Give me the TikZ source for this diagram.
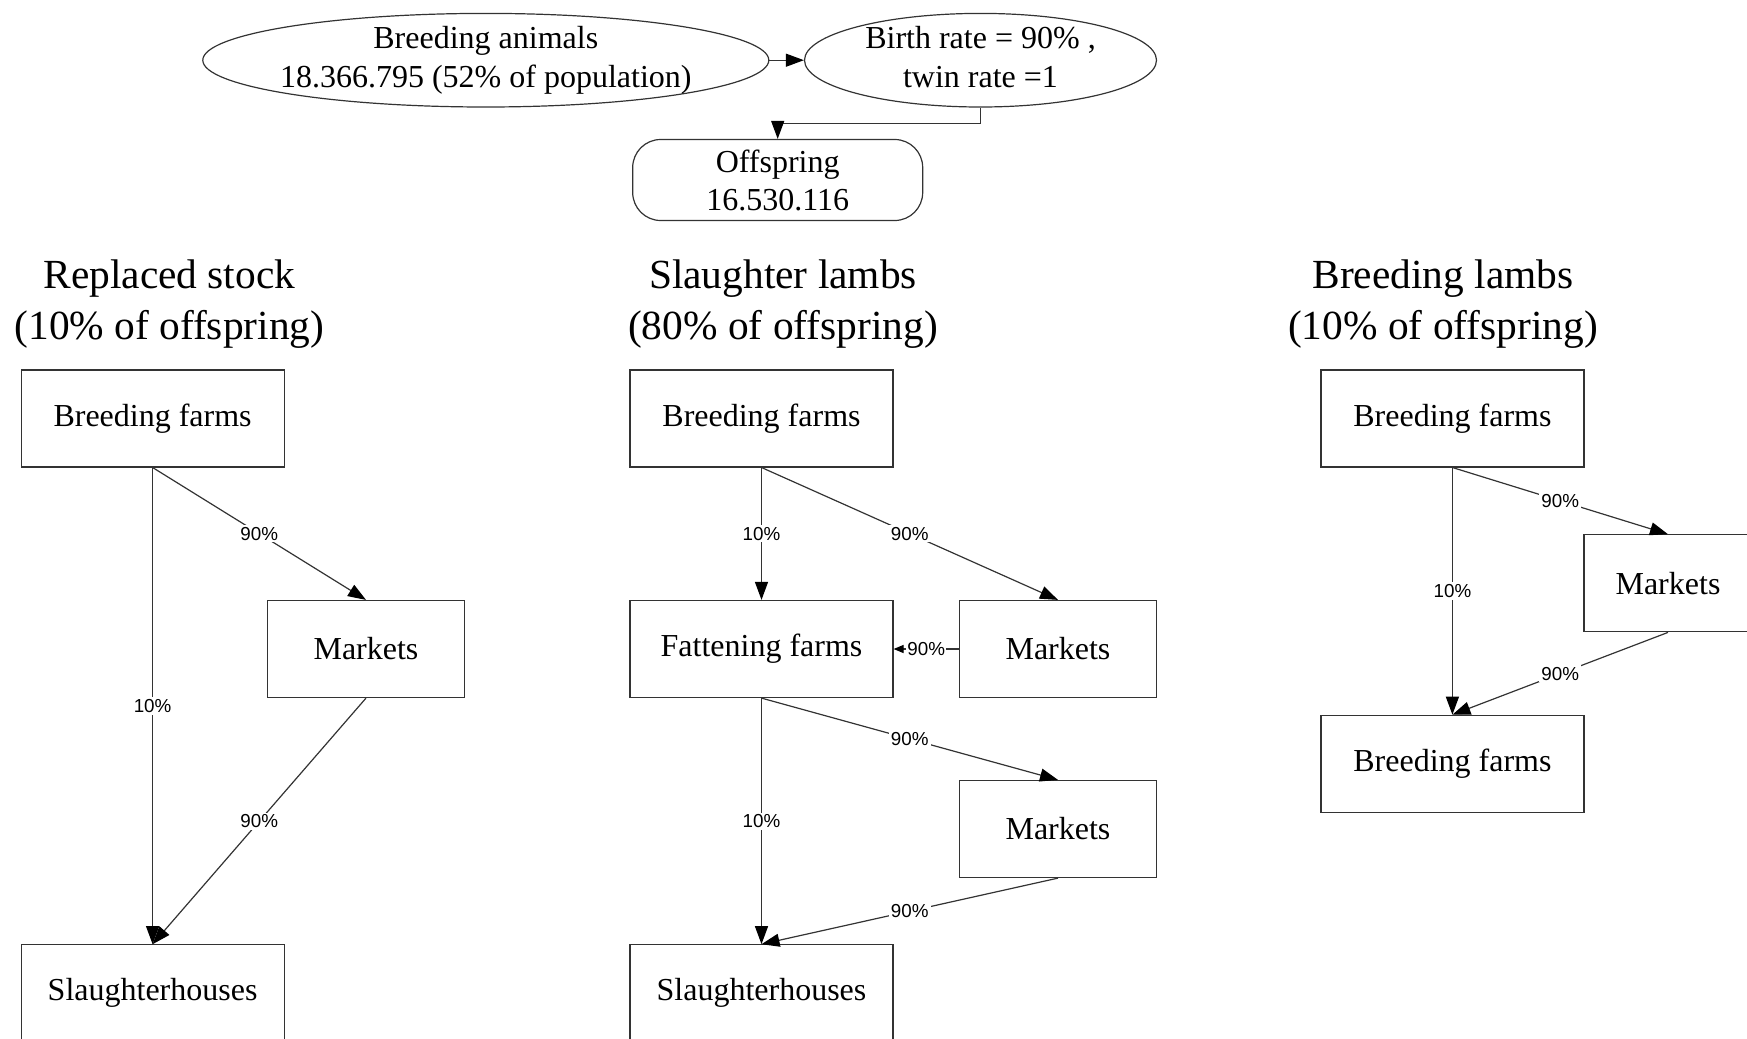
\documentclass[tikz,border=0pt]{standalone}
\usepackage{fontspec}
\setmainfont{Liberation Serif}
\newfontfamily\pctfont{Liberation Sans}
\usetikzlibrary{arrows.meta,shapes.geometric}
\tikzset{
  basic/.style  = {draw=black!80, line width=0.6pt, align=center,
                   font=\fontsize{16}{19.5}\selectfont},
  farm/.style   = {basic, rectangle, minimum width=131.5pt, minimum height=48.5pt},
  market/.style = {basic, rectangle, minimum width=98.5pt, minimum height=48.5pt},
  oval/.style   = {basic, ellipse, inner sep=-5pt, minimum height=46.8pt},
  result/.style = {basic, rounded corners=14pt, minimum width=145pt,
                   minimum height=40.5pt, font=\fontsize{16}{19}\selectfont},
  group/.style  = {align=center, font=\fontsize{20.7}{25.5}\selectfont},
  pct/.style    = {fill=white, inner sep=1pt, text=black,
                   font=\pctfont\fontsize{9.4}{11}\selectfont}
}

\begin{document}
\begin{tikzpicture}[x=0.5pt, y=-0.5pt,
		flow/.style={->, draw=black!80, line width=0.6pt},
		>={Triangle[length=9pt,width=6.5pt,color=black]}]
	  \useasboundingbox (0,0) rectangle (1747,1039);

	  % population at the top
	  \node[oval, minimum width=283pt] (anim) at (485.8,60.2)
	  {Breeding animals\\ 18.366.795 (52\% of population)};
	  \node[oval, minimum width=176pt] (birth) at (980.5,60.2)
	  {Birth rate = 90\% ,\\ twin rate =1\vphantom{p}};
	  \node[result] (off) at (777.7,180) {Offspring\\ 16.530.116};

	  \draw[flow] (anim) -- (birth);
	  \draw[flow] (birth.south) -- ++(0,16) -| (off.north);

	  % the three groups of offspring
	  \node[group] (g1) at (169.4,304.5) {Replaced stock\\ (10\% of offspring)};
	  \node[group] (g2) at (783,304.5) {Slaughter lambs\\ (80\% of offspring)};
	  \node[group] (g3) at (1443,304.5) {Breeding lambs\\ (10\% of offspring)};

	  % replaced stock
	  \node[farm] (bf1) at (152.6,418.4) {Breeding farms};
	  \node[market] (mk1) at (366,649) {Markets};
	  \node[farm] (sh1) at (152.6,993.3) {Slaughterhouses};

	  % slaughter lambs
	  \node[farm] (bf2) at (761.5,418.4) {Breeding farms};
	  \node[farm] (ff2) at (761.5,649) {Fattening farms};
	  \node[market] (mk2) at (1058,649) {Markets};
	  \node[market] (mk3) at (1058,829) {Markets};
	  \node[farm] (sh2) at (761.5,993.3) {Slaughterhouses};

	  % breeding lambs
	  \node[farm] (bf3) at (1452.4,418.4) {Breeding farms};
	  \node[market, minimum width=84pt] (mk4) at (1668,583.3) {Markets};
	  \node[farm] (bf4) at (1452.4,763.8) {Breeding farms};

	  % flows between the stages, from bottom to top of the boxes
	  \foreach \from/\to/\share in {bf1/mk1/90, bf1/sh1/10, mk1/sh1/90,
			bf2/ff2/10, bf2/mk2/90, ff2/mk3/90, ff2/sh2/10, mk3/sh2/90,
			bf3/mk4/90, bf3/bf4/10, mk4/bf4/90}
		\draw[flow] (\from.south) -- node[pct] {\share\%} (\to.north);

	  \draw[flow, >={Triangle[length=5pt,width=4pt,color=black]}] (mk2.west)
		-- node[pct, inner sep=0.5pt] {90\%} (ff2.east);

	  \end{tikzpicture}
\end{document}
